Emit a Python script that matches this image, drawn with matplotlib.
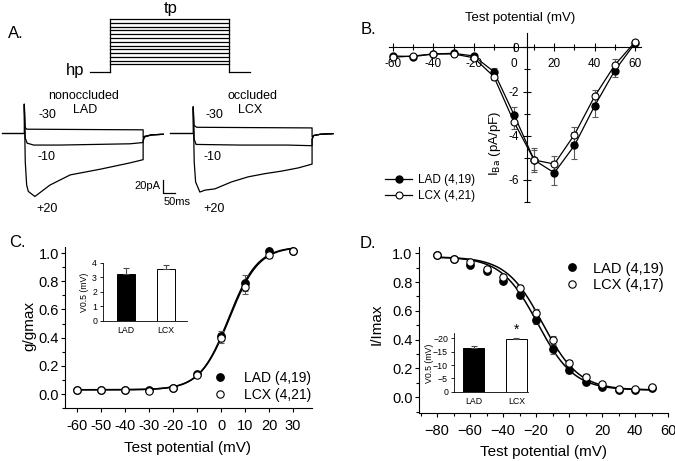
import numpy as np
import matplotlib
matplotlib.use("Agg")
import matplotlib.pyplot as plt
from matplotlib.ticker import MultipleLocator, FormatStrFormatter

plt.rcParams['font.family'] = ['Liberation Sans', 'DejaVu Sans']
plt.rcParams['axes.linewidth'] = 0.8
plt.rcParams['xtick.major.width'] = 0.8
plt.rcParams['ytick.major.width'] = 0.8
plt.rcParams['xtick.minor.width'] = 0.8
plt.rcParams['ytick.minor.width'] = 0.8

# ---------------- data ----------------
# A: voltage protocol (mV) and current traces (ms, pA)
hold_mv = -80
test_mv = [-60, -50, -40, -30, -20, -10, 0, 10, 20, 30, 40, 50, 60]
pulse_ms = 505

base_lad_t = [-95, 0]
base_lcx_t = [-99, 0]

lad_p20_t = [0, 0, 4, 10, 17, 45, 109, 195, 323, 450, 505, 505, 512, 540, 590]
lad_p20_i = [0, 45, -45, -82, -92, -100, -82, -66, -57, -47, -42, -12, -6, -3, -2]
lad_m10_t = [0, 4, 12, 40, 150, 300, 450, 505, 505, 512, 540, 590]
lad_m10_i = [45, -8, -16, -19, -19, -18, -17, -15, -9, -6, -3, -2]
lad_m30_t = [0, 3, 10, 250, 505, 505, 512, 540, 590]
lad_m30_i = [45, 9, 6, 5.5, 5, -7, -5, -3, -2]

lcx_p20_t = [0, 0, 4, 10, 28, 50, 92, 163, 234, 305, 376, 446, 505, 505, 512, 540, 594]
lcx_p20_i = [0, 41, -45, -77, -93, -90, -88, -77, -69, -64, -60, -55, -49, -10, -4, -2, -1]
lcx_m10_t = [0, 4, 12, 200, 400, 505, 505, 512, 540, 594]
lcx_m10_i = [41, -10, -18, -19, -19, -20, -9, -4, -2, -1]
lcx_m30_t = [0, 3, 15, 250, 505, 505, 512, 540, 594]
lcx_m30_i = [41, 12, 9, 8.5, 8, -6, -4, -2, -1]

# B: I-V relation
v_b = [-60, -50, -40, -30, -20, -10, 0, 10, 20, 30, 40, 50, 60]
lad_b = [-0.39, -0.42, -0.30, -0.27, -0.39, -1.10, -3.05, -5.10, -5.68, -4.44, -2.65, -1.05, 0.18]
lad_b_err = [0.05, 0.05, 0.05, 0.05, 0.08, 0.15, 0.35, 0.55, 0.55, 0.60, 0.50, 0.30, 0.15]
lcx_b = [-0.45, -0.39, -0.30, -0.30, -0.47, -1.32, -3.38, -5.10, -5.28, -3.95, -2.22, -0.80, 0.24]
lcx_b_err = [0.05, 0.05, 0.05, 0.05, 0.08, 0.15, 0.30, 0.45, 0.35, 0.35, 0.30, 0.25, 0.10]

# C: activation
v_c = [-60, -50, -40, -30, -20, -10, 0, 10, 20, 30]
lad_c = [0.03, 0.03, 0.03, 0.025, 0.045, 0.14, 0.41, 0.787, 1.017, 1.017]
lad_c_err = [0, 0, 0, 0, 0, 0.01, 0.035, 0.055, 0.03, 0]
lcx_c = [0.03, 0.03, 0.03, 0.024, 0.045, 0.137, 0.40, 0.756, 0.988, 1.017]
lcx_c_err = [0, 0, 0, 0, 0, 0.01, 0.035, 0.045, 0.02, 0]
# Boltzmann fit params: bottom, top, V0.5, k
lad_c_fit = [0.03, 1.045, 3.2, 6.0]
lcx_c_fit = [0.03, 1.045, 3.5, 6.1]
inset_c_vals = [3.25, 3.55]
inset_c_err = [0.4, 0.3]

# D: inactivation
v_d = [-80, -70, -60, -50, -40, -30, -20, -10, 0, 10, 20, 30, 40, 50]
lad_d = [0.988, 0.958, 0.919, 0.877, 0.81, 0.711, 0.537, 0.333, 0.19, 0.109, 0.069, 0.051, 0.051, 0.065]
lad_d_err = [0.01, 0.01, 0.015, 0.015, 0.02, 0.02, 0.03, 0.03, 0.02, 0.015, 0.01, 0.01, 0.01, 0.01]
lcx_d = [0.988, 0.958, 0.942, 0.889, 0.838, 0.757, 0.583, 0.398, 0.236, 0.144, 0.093, 0.056, 0.058, 0.074]
lcx_d_err = [0.01, 0.01, 0.015, 0.015, 0.02, 0.02, 0.03, 0.03, 0.02, 0.015, 0.01, 0.01, 0.01, 0.01]
lad_d_fit = [0.05, 0.975, -19.0, 11.0]
lcx_d_fit = [0.05, 0.975, -16.0, 11.0]
inset_d_vals = [-16.3, -19.6]
inset_d_err = [0.8, 0.7]

groups = ['LAD', 'LCX']

# ---------------- figure ----------------
W, H = 675, 461
fig = plt.figure(figsize=(6.75, 4.61), dpi=100)


def box(x0, y0, x1, y1):
    return [x0 / W, 1 - y1 / H, (x1 - x0) / W, (y1 - y0) / H]


def ftext(x, y, s, **kw):
    kw.setdefault('ha', 'center')
    kw.setdefault('va', 'center')
    fig.text(x / W, 1 - y / H, s, **kw)


# ---- A: protocol
axp = fig.add_axes(box(0, 0, 340, 85))
axp.set_xlim(-467.5, 977.5)
axp.set_ylim(-114.3, 110.2)
axp.axis('off')
axp.plot([-85, 0], [hold_mv, hold_mv], color='k', lw=0.9)
axp.plot([pulse_ms, pulse_ms + 90], [hold_mv, hold_mv], color='k', lw=0.9)
axp.plot([0, 0], [hold_mv, max(test_mv)], color='k', lw=0.9)
axp.plot([pulse_ms, pulse_ms], [hold_mv, max(test_mv)], color='k', lw=0.9)
for v in test_mv:
    axp.plot([0, pulse_ms], [v, v], color='k', lw=0.9)

# ---- A: traces
axa = fig.add_axes(box(0, 85, 340, 225))
axa.set_xlim(-103.3, 1341.7)
axa.set_ylim(-144.9, 75.6)
axa.axis('off')
off = 718
axa.plot(base_lad_t, [0, 0], color='k', lw=1.0)
axa.plot(lad_p20_t, lad_p20_i, color='k', lw=0.9)
axa.plot(lad_m10_t, lad_m10_i, color='k', lw=0.9)
axa.plot(lad_m30_t, lad_m30_i, color='k', lw=0.9)
axa.plot(np.array(base_lcx_t) + off, [0, 0], color='k', lw=1.0)
axa.plot(np.array(lcx_p20_t) + off, lcx_p20_i, color='k', lw=0.9)
axa.plot(np.array(lcx_m10_t) + off, lcx_m10_i, color='k', lw=0.9)
axa.plot(np.array(lcx_m30_t) + off, lcx_m30_i, color='k', lw=0.9)
# scale bar 20 pA / 50 ms
axa.plot([591, 591, 641], [-74, -94, -94], color='k', lw=0.9)

ftext(16, 33, 'A.', fontsize=12)
ftext(171, 8, 'tp', fontsize=12)
ftext(75, 71, 'hp', fontsize=12)
ftext(84, 96, 'nonoccluded', fontsize=9)
ftext(85, 110, 'LAD', fontsize=9)
ftext(47, 115, '-30', fontsize=9)
ftext(46, 157, '-10', fontsize=9)
ftext(47, 209, '+20', fontsize=9)
ftext(253, 96, 'occluded', fontsize=9)
ftext(250, 110, 'LCX', fontsize=9)
ftext(214, 115, '-30', fontsize=9)
ftext(213, 157, '-10', fontsize=9)
ftext(214, 209, '+20', fontsize=9)
ftext(147, 186, '20pA', fontsize=8)
ftext(177, 202, '50ms', fontsize=8)

# ---- B
axb = fig.add_axes(box(389, 33.2, 641, 202))
axb.set_xlim(-62, 63)
axb.set_ylim(-7, 0.64)
axb.spines['top'].set_visible(False)
axb.spines['right'].set_visible(False)
axb.spines['left'].set_position(('data', 6.5))
axb.spines['bottom'].set_position(('data', 0))
axb.patch.set_alpha(0)
axb.xaxis.set_minor_locator(MultipleLocator(10))
axb.yaxis.set_minor_locator(MultipleLocator(1))
axb.set_yticks([0, -2, -4, -6])
axb.set_yticklabels(['0', '-2', '-4', '-6'])
axb.set_xticks([-60, -40, -20, 0, 20, 40, 60])
axb.set_xticklabels(['-60', '-40', '-20', '0', '20', '40', '60'])
axb.tick_params(which='both', direction='inout', labelsize=8.5)
axb.tick_params(which='major', length=6)
axb.tick_params(which='minor', length=5)
axb.tick_params(axis='x', pad=5)
axb.tick_params(axis='y', pad=3)
axb.errorbar(v_b, lad_b, yerr=lad_b_err, fmt='none', ecolor='0.35', elinewidth=0.8, capsize=2.5, capthick=0.8)
axb.errorbar(v_b, lcx_b, yerr=lcx_b_err, fmt='none', ecolor='0.35', elinewidth=0.8, capsize=2.5, capthick=0.8)
axb.plot(v_b, lad_b, '-o', color='k', mfc='k', mec='k', ms=5, lw=0.9, label='LAD (4,19)', clip_on=False, zorder=3)
axb.plot(v_b, lcx_b, '-o', color='k', mfc='white', mec='k', mew=0.8, ms=5, lw=0.9, label='LCX (4,21)', clip_on=False, zorder=4)
axb.legend(loc='center left', bbox_to_anchor=(385 / W, 1 - 188 / H), bbox_transform=fig.transFigure,
           frameon=False, fontsize=8.5, handlelength=2.3, handletextpad=0.5, borderpad=0,
           borderaxespad=0, labelspacing=0.35)
ftext(520, 18, 'Test potential (mV)', fontsize=9.5)
ftext(495, 143, r'I$_{\rm Ba}$ (pA/pF)', fontsize=9.5, rotation=90)
ftext(368, 30, 'B.', fontsize=12)


def boltz_act(v, p):
    return p[0] + (p[1] - p[0]) / (1 + np.exp((p[2] - v) / p[3]))


def boltz_inact(v, p):
    return p[0] + (p[1] - p[0]) / (1 + np.exp((v - p[2]) / p[3]))


def style_main(ax):
    ax.spines['top'].set_visible(False)
    ax.spines['right'].set_visible(False)
    ax.patch.set_alpha(0)
    ax.tick_params(which='both', direction='out', labelsize=10.5)
    ax.tick_params(which='major', length=3)
    ax.tick_params(which='minor', length=2.5)
    ax.tick_params(axis='x', pad=4.5)
    ax.tick_params(axis='y', pad=1.5)
    ax.yaxis.set_major_locator(MultipleLocator(0.2))
    ax.yaxis.set_minor_locator(MultipleLocator(0.1))
    ax.yaxis.set_major_formatter(FormatStrFormatter('%.1f'))


def style_inset(ax):
    ax.spines['top'].set_visible(False)
    ax.spines['right'].set_visible(False)
    ax.patch.set_alpha(0)
    ax.tick_params(labelsize=6.3, length=2.5, width=0.6, pad=2)
    ax.tick_params(axis='x', length=0, pad=4)
    for s in ax.spines.values():
        s.set_linewidth(0.6)


# ---- C
axc = fig.add_axes(box(65, 247.4, 312.2, 408.1))
axc.set_xlim(-65, 38)
axc.set_ylim(-0.1, 1.04)
style_main(axc)
axc.set_xticks(v_c)
axc.set_xticklabels([str(v) for v in v_c])
vv = np.linspace(-60, 30, 300)
axc.plot(vv, boltz_act(vv, lad_c_fit), color='k', lw=1.1)
axc.plot(vv, boltz_act(vv, lcx_c_fit), color='k', lw=1.1)
axc.errorbar(v_c, lad_c, yerr=lad_c_err, fmt='none', ecolor='0.35', elinewidth=0.8, capsize=2, capthick=0.8)
axc.errorbar(v_c, lcx_c, yerr=lcx_c_err, fmt='none', ecolor='0.35', elinewidth=0.8, capsize=2, capthick=0.8)
axc.plot(v_c, lad_c, 'o', mfc='k', mec='k', ms=5.3, label='LAD (4,19)', zorder=3)
axc.plot(v_c, lcx_c, 'o', mfc='white', mec='k', mew=0.8, ms=5.3, label='LCX (4,21)', zorder=4)
axc.legend(loc='center left', bbox_to_anchor=(213 / W, 1 - 386.5 / H), bbox_transform=fig.transFigure,
           frameon=False, fontsize=10, handlelength=1.0, handletextpad=1.2, borderpad=0,
           borderaxespad=0, labelspacing=0.25)
ftext(187, 448, 'Test potential (mV)', fontsize=11)
ftext(29, 326, 'g/gmax', fontsize=11, rotation=90)
ftext(17, 242, 'C.', fontsize=12)

axci = fig.add_axes(box(103.3, 262.7, 187, 320.7))
style_inset(axci)
axci.set_xlim(-0.575, 1.525)
axci.set_ylim(0, 4)
axci.bar([0, 1], inset_c_vals, width=0.45, color=['k', 'white'], edgecolor='k', linewidth=0.7,
         yerr=[[0, 0], inset_c_err], error_kw=dict(ecolor='0.3', elinewidth=0.8, capsize=2.5, capthick=0.8))
axci.set_xticks([0, 1])
axci.set_xticklabels(groups)
axci.set_yticks([0, 1, 2, 3, 4])
ftext(85, 292, 'V0.5 (mV)', fontsize=6.3, rotation=90)

# ---- D
axd = fig.add_axes(box(418.9, 247.5, 668, 413.1))
axd.set_xlim(-91, 60)
axd.set_ylim(-0.11, 1.04)
style_main(axd)
axd.xaxis.set_major_locator(MultipleLocator(20))
axd.xaxis.set_minor_locator(MultipleLocator(10))
vv = np.linspace(-80, 50, 300)
axd.plot(vv, boltz_inact(vv, lad_d_fit), color='k', lw=1.1)
axd.plot(vv, boltz_inact(vv, lcx_d_fit), color='k', lw=1.1)
axd.errorbar(v_d, lad_d, yerr=lad_d_err, fmt='none', ecolor='0.35', elinewidth=0.8, capsize=2, capthick=0.8)
axd.errorbar(v_d, lcx_d, yerr=lcx_d_err, fmt='none', ecolor='0.35', elinewidth=0.8, capsize=2, capthick=0.8)
axd.plot(v_d, lad_d, 'o', mfc='k', mec='k', ms=5.3, label='LAD (4,19)', zorder=3)
axd.plot(v_d, lcx_d, 'o', mfc='white', mec='k', mew=0.8, ms=5.3, label='LCX (4,17)', zorder=4)
axd.legend(loc='center left', bbox_to_anchor=(565 / W, 1 - 277 / H), bbox_transform=fig.transFigure,
           frameon=False, fontsize=10.5, handlelength=1.0, handletextpad=0.9, borderpad=0,
           borderaxespad=0, labelspacing=0.2)
ftext(543, 452, 'Test potential (mV)', fontsize=11)
ftext(377, 324, 'I/Imax', fontsize=11, rotation=90)
ftext(368, 243, 'D.', fontsize=12)

axdi = fig.add_axes(box(454.3, 333, 528, 391.7))
style_inset(axdi)
axdi.set_xlim(-0.45, 1.27)
axdi.set_ylim(0, -22)
axdi.bar([0, 1], inset_d_vals, width=0.48, color=['k', 'white'], edgecolor='k', linewidth=0.7,
         yerr=[inset_d_err, [0, 0]], error_kw=dict(ecolor='0.3', elinewidth=0.8, capsize=2.5, capthick=0.8))
axdi.set_xticks([0, 1])
axdi.set_xticklabels(groups)
axdi.set_yticks([0, -5, -10, -15, -20])
axdi.text(1, inset_d_vals[1] - inset_d_err[1] - 0.3, '*', ha='center', va='bottom', fontsize=10, clip_on=False)
ftext(430, 363, 'V0.5 (mV)', fontsize=6.3, rotation=90)

fig.savefig('out.png', dpi=100)
